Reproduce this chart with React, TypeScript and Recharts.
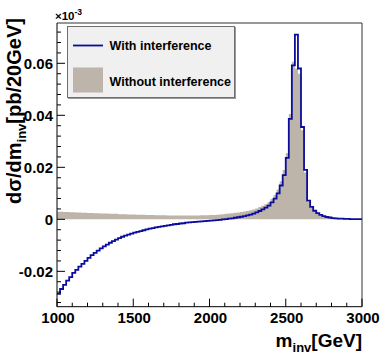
import React from 'react';
import { ComposedChart, Area, Line, XAxis, YAxis, Legend, Label } from 'recharts';

// ---- data (20 GeV bins, low edges 1000 ... 2980) ----
const binLowEdges: number[] = Array.from({ length: 100 }, (_, i) => 1000 + 20 * i);
const histUpperEdge = 3000;

const withInterference: number[] = [
  -0.0287, -0.0268, -0.0252, -0.0236, -0.0222, -0.0206, -0.0194, -0.0182, -0.0171, -0.0160,
  -0.0148, -0.0138, -0.0129, -0.0120, -0.0112, -0.0104, -0.0097, -0.0090, -0.0084, -0.0078,
  -0.0072, -0.0067, -0.0063, -0.0059, -0.0055, -0.0051, -0.0048, -0.0045, -0.0042, -0.0039,
  -0.0036, -0.0034, -0.0031, -0.0029, -0.0027, -0.0025, -0.0023, -0.0021, -0.0019, -0.0018,
  -0.0016, -0.0015, -0.0013, -0.0012, -0.0011, -0.0010, -0.0009, -0.0008, -0.0007, -0.0006,
  -0.0005, -0.0004, -0.0003, -0.0002, 0.0000, 0.0001, 0.0003, 0.0004, 0.0006, 0.0008,
  0.0010, 0.0012, 0.0015, 0.0018, 0.0022, 0.0027, 0.0032, 0.0038, 0.0045, 0.0053,
  0.0065, 0.0080, 0.0100, 0.0130, 0.0170, 0.0236, 0.0386, 0.0592, 0.0710, 0.0580,
  0.0355, 0.0190, 0.0072, 0.0048, 0.0033, 0.0024, 0.0017, 0.0012, 0.0009, 0.0007,
  0.0005, 0.0004, 0.0003, 0.0003, 0.0002, 0.0002, 0.0001, 0.0001, 0.0001, 0.0001,
];

const withoutInterference: number[] = [
  0.0029, 0.0029, 0.0028, 0.0028, 0.0027, 0.0027, 0.0026, 0.0026, 0.0025, 0.0025,
  0.0024, 0.0024, 0.0023, 0.0023, 0.0022, 0.0022, 0.0022, 0.0021, 0.0021, 0.0021,
  0.0020, 0.0020, 0.0020, 0.0019, 0.0019, 0.0019, 0.0018, 0.0018, 0.0018, 0.0017,
  0.0017, 0.0017, 0.0016, 0.0016, 0.0016, 0.0016, 0.0015, 0.0015, 0.0015, 0.0015,
  0.0015, 0.0015, 0.0015, 0.0015, 0.0015, 0.0015, 0.0015, 0.0016, 0.0016, 0.0016,
  0.0017, 0.0017, 0.0018, 0.0019, 0.0020, 0.0021, 0.0022, 0.0023, 0.0025, 0.0026,
  0.0028, 0.0030, 0.0032, 0.0035, 0.0038, 0.0042, 0.0047, 0.0052, 0.0058, 0.0066,
  0.0078, 0.0094, 0.0115, 0.0146, 0.0190, 0.0254, 0.0405, 0.0606, 0.0580, 0.0560,
  0.0343, 0.0180, 0.0068, 0.0045, 0.0031, 0.0022, 0.0016, 0.0011, 0.0008, 0.0006,
  0.0005, 0.0004, 0.0003, 0.0003, 0.0002, 0.0002, 0.0001, 0.0001, 0.0001, 0.0001,
];

const seriesNames = ['With interference', 'Without interference'];

const xMajorTicks = [1000, 1500, 2000, 2500, 3000];
const xTickLabels = ['1000', '1500', '2000', '2500', '3000'];
const xMinorTicks = [1100, 1200, 1300, 1400, 1600, 1700, 1800, 1900, 2100, 2200, 2300, 2400, 2600, 2700, 2800, 2900];

const yMajorTicks = [-0.02, 0, 0.02, 0.04, 0.06];
const yTickLabels = ['-0.02', '0', '0.02', '0.04', '0.06'];
const yMinorTicks = [
  -0.032, -0.028, -0.024, -0.016, -0.012, -0.008, -0.004,
  0.004, 0.008, 0.012, 0.016, 0.024, 0.028, 0.032, 0.036,
  0.044, 0.048, 0.052, 0.056, 0.064, 0.068, 0.072,
];

const xDomain: [number, number] = [1000, 3000];
const yDomain: [number, number] = [-0.0336, 0.0755];

const data = binLowEdges.map((m, i) => ({
  m,
  withI: withInterference[i],
  withoutI: withoutInterference[i],
}));
data.push({
  m: histUpperEdge,
  withI: withInterference[withInterference.length - 1],
  withoutI: withoutInterference[withoutInterference.length - 1],
});

// ---- styles ----
const FONT = '"Liberation Sans", Arial, Helvetica, sans-serif';
const BLUE = '#0c0c9c';
const GRAY = '#bdb4aa';

const findIndex = (arr: number[], v: number) => arr.findIndex((a) => Math.abs(a - v) < 1e-9);

const XTick = (props: any) => {
  const { x, y, payload } = props;
  const idx = findIndex(xMajorTicks, payload.value);
  const major = idx >= 0;
  return (
    <g>
      <line x1={x} x2={x} y1={y} y2={y - (major ? 8 : 4)} stroke="#000" strokeWidth={1} />
      {major && (
        <text x={x + 1} y={y + 16} textAnchor="middle" fontFamily={FONT} fontWeight="bold" fontSize={15} fill="#000">
          {xTickLabels[idx]}
        </text>
      )}
    </g>
  );
};

const YTick = (props: any) => {
  const { x, y, payload } = props;
  const idx = findIndex(yMajorTicks, payload.value);
  const major = idx >= 0;
  return (
    <g>
      <line x1={x} x2={x + (major ? 8 : 4)} y1={y} y2={y} stroke="#000" strokeWidth={1} />
      {major && (
        <text x={x - 4} y={y + 5.5} textAnchor="end" fontFamily={FONT} fontWeight="bold" fontSize={15} fill="#000">
          {yTickLabels[idx]}
        </text>
      )}
    </g>
  );
};

const YTitle = (props: any) => {
  const { viewBox } = props;
  const ax = viewBox.x + viewBox.width;
  const cx = ax - 36;
  const cy = viewBox.y + 88;
  return (
    <g>
      <text
        x={cx}
        y={cy}
        transform={`rotate(-90 ${cx} ${cy})`}
        textAnchor="middle"
        fontFamily={FONT}
        fontWeight="bold"
        fontSize={20}
        fill="#000"
      >
        dσ/dm
        <tspan dy={5} fontSize={13}>inv</tspan>
        <tspan dy={-5}>[pb/20GeV]</tspan>
      </text>
      <text x={ax - 2} y={viewBox.y - 3} fontFamily={FONT} fontWeight="bold" fontSize={11.5} fill="#000">
        ×10
        <tspan dy={-5} fontSize={8.5}>-3</tspan>
      </text>
    </g>
  );
};

const XTitle = (props: any) => {
  const { viewBox } = props;
  return (
    <text
      x={viewBox.x + viewBox.width}
      y={viewBox.y + 40}
      textAnchor="end"
      fontFamily={FONT}
      fontWeight="bold"
      fontSize={19}
      fill="#000"
    >
      m
      <tspan dy={5} fontSize={13}>inv</tspan>
      <tspan dy={-5}>[GeV]</tspan>
    </text>
  );
};

const LegendBox = () => (
  <div
    style={{
      width: 168,
      height: 72,
      background: '#f0f0f0',
      border: '1px solid #6e6e6e',
      boxSizing: 'border-box',
      boxShadow: '1px 1px 0 #9a9a9a',
    }}
  >
    <svg width={166} height={70} style={{ display: 'block' }}>
      <line x1={5} x2={35} y1={18.5} y2={18.5} stroke={BLUE} strokeWidth={1.8} />
      <text x={41.5} y={23} fontFamily={FONT} fontWeight="bold" fontSize={12.5} fill="#000">
        {seriesNames[0]}
      </text>
      <rect x={5} y={40.5} width={30} height={25} fill={GRAY} />
      <text x={41.5} y={59} fontFamily={FONT} fontWeight="bold" fontSize={12.5} fill="#000">
        {seriesNames[1]}
      </text>
    </svg>
  </div>
);

export default function App() {
  return (
    <div style={{ position: 'absolute', left: 0, top: 0, width: 382, height: 356, background: '#fff' }}>
      <ComposedChart
        width={382}
        height={356}
        data={data}
        margin={{ top: 22, right: 19, bottom: 48.3, left: 56 }}
      >
        <XAxis
          dataKey="m"
          type="number"
          domain={xDomain}
          allowDataOverflow
          ticks={[...xMajorTicks, ...xMinorTicks]}
          interval={0}
          height={1}
          tickSize={0}
          tickMargin={0}
          tickLine={false}
          tick={<XTick />}
          axisLine={{ stroke: '#000', strokeWidth: 1 }}
        >
          <Label content={<XTitle />} />
        </XAxis>
        <XAxis
          xAxisId="top"
          orientation="top"
          type="number"
          domain={xDomain}
          height={1}
          tick={false}
          tickLine={false}
          axisLine={{ stroke: '#333', strokeWidth: 1 }}
        />
        <YAxis
          type="number"
          domain={yDomain}
          allowDataOverflow
          ticks={[...yMajorTicks, ...yMinorTicks]}
          interval={0}
          width={1}
          tickSize={0}
          tickMargin={0}
          tickLine={false}
          tick={<YTick />}
          axisLine={{ stroke: '#000', strokeWidth: 1 }}
        >
          <Label content={<YTitle />} />
        </YAxis>
        <YAxis
          yAxisId="right"
          orientation="right"
          type="number"
          domain={yDomain}
          width={1}
          tick={false}
          tickLine={false}
          axisLine={{ stroke: '#333', strokeWidth: 1 }}
        />
        <Area
          type="stepAfter"
          dataKey="withoutI"
          name={seriesNames[1]}
          baseValue={0}
          fill={GRAY}
          fillOpacity={1}
          stroke="none"
          isAnimationActive={false}
        />
        <Line
          type="stepAfter"
          dataKey="withI"
          name={seriesNames[0]}
          stroke={BLUE}
          strokeWidth={1.8}
          dot={false}
          activeDot={false}
          isAnimationActive={false}
        />
        <Legend
          layout="horizontal"
          verticalAlign="middle"
          align="center"
          wrapperStyle={{ left: 67, top: 26, width: 168, height: 72 }}
          content={<LegendBox />}
        />
      </ComposedChart>
    </div>
  );
}
